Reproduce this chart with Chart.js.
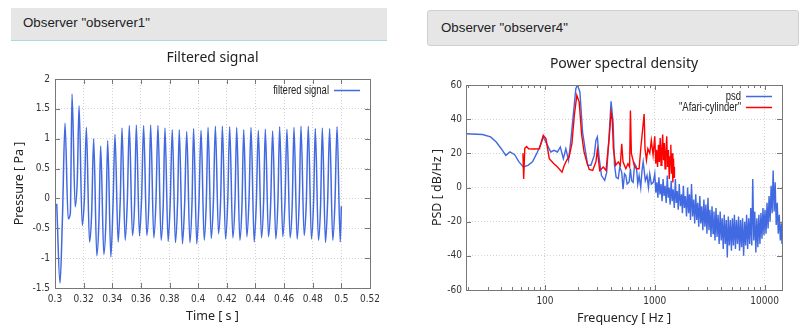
<!DOCTYPE html>
<html>
<head>
<meta charset="utf-8">
<script src="https://cdn.jsdelivr.net/npm/chart.js@4.4.0/dist/chart.umd.min.js"></script>
<style>
  html, body { margin: 0; padding: 0; background: #fff; }
  body { width: 806px; height: 333px; position: relative; overflow: hidden;
         font-family: 'Liberation Sans', Arial, sans-serif; }
  .obs { position: absolute; box-sizing: border-box; background: #e6e6e6; color: #222;
         font-size: 13.3px; line-height: 15px; }
  #obs1 { left: 11px; top: 8px; width: 376px; height: 33px; border-bottom: 1px solid #a6dcdc; padding: 7px 0 0 12px; }
  #obs4 { left: 427px; top: 10px; width: 372px; height: 36px; border: 1px solid #cfcfcf; border-radius: 3px; padding: 9px 0 0 13px; }
  canvas { position: absolute; }
  #chart-signal { left: 0; top: 44px; }
  #chart-psd { left: 403px; top: 50px; }
</style>
</head>
<body>
<div class="obs" id="obs1">Observer "observer1"</div>
<div class="obs" id="obs4">Observer "observer4"</div>
<canvas id="chart-signal" width="403" height="289"></canvas>
<canvas id="chart-psd" width="403" height="283"></canvas>
<script>
// ============================================================
// Observer plots — filtered signal + power spectral density
// ============================================================

// ── Filtered signal (observer1) ──────────────────────────────
// lead-in before the first pulse
const leadT = [0.3012, 0.3035, 0.3052];
const leadP = [-0.09, -1.42, -0.33];

// one entry per pulse: peak time / peak value
const peakT = [0.3070, 0.3119, 0.3168, 0.3219, 0.3270, 0.3319, 0.3368, 0.3419, 0.3468, 0.3519,
               0.3568, 0.3619, 0.3668, 0.3719, 0.3768, 0.3819, 0.3868, 0.3920, 0.3968, 0.4020,
               0.4069, 0.4120, 0.4169, 0.4220, 0.4269, 0.4318, 0.4369, 0.4420, 0.4469, 0.4520,
               0.4569, 0.4620, 0.4669, 0.4718, 0.4769, 0.4818, 0.4867, 0.4918, 0.4970];
const peakP = [1.26, 1.75, 1.55, 1.19, 1.00, 0.88, 0.97, 1.07, 1.18, 1.22,
               1.23, 1.22, 1.23, 1.22, 1.18, 1.15, 1.15, 1.12, 1.17, 1.14,
               1.19, 1.21, 1.21, 1.20, 1.19, 1.15, 1.19, 1.14, 1.16, 1.13,
               1.20, 1.16, 1.19, 1.21, 1.21, 1.17, 1.18, 1.17, 1.20];
// trough after each pulse
const troughP = [-0.34, -0.14, -0.45, -0.73, -0.96, -0.94, -0.98, -0.73, -0.70, -0.62,
                 -0.63, -0.62, -0.66, -0.70, -0.72, -0.74, -0.76, -0.74, -0.76, -0.70,
                 -0.67, -0.59, -0.68, -0.66, -0.70, -0.64, -0.73, -0.66, -0.64, -0.68,
                 -0.64, -0.66, -0.68, -0.62, -0.68, -0.70, -0.74, -0.70, -0.73];
// small shoulder on the rise before the next pulse
const shoulderP = [-0.25, 0.33, 0.00, -0.25, -0.37, -0.35, -0.12, 0.00, -0.05, -0.08,
                   0.02, -0.06, -0.05, -0.10, -0.04, -0.08, -0.12, -0.06, -0.10, -0.03,
                   -0.07, 0.00, -0.08, -0.05, -0.10, -0.02, -0.08, -0.06, -0.10, -0.04,
                   -0.06, -0.09, -0.03, -0.07, -0.05, -0.10, -0.06, -0.08];
const pulseLag = [0.0022, 0.0037];   // trough, shoulder delay after a peak [s]
const endT = 0.5, endP = -0.13;

const timeTicks     = [0.3, 0.32, 0.34, 0.36, 0.38, 0.4, 0.42, 0.44, 0.46, 0.48, 0.5, 0.52];
const pressureTicks = [-1.5, -1, -0.5, 0, 0.5, 1, 1.5, 2];

// ── Power spectral density (observer4) ───────────────────────
const psdFreq = [19.1, 27, 32, 36, 40, 44, 48, 53, 58, 63.5, 70, 77, 84, 92, 96.5, 102, 113, 121,
                 130, 138, 147, 155, 164, 172, 181, 191, 198, 208, 220, 233, 245, 262, 281, 291,
                 300, 312, 327, 350, 365, 384, 400, 417, 430, 445, 465, 480, 500, 514, 530, 545,
                 560, 584, 600, 615, 635, 655, 681, 700, 720, 745, 765, 784, 800, 820, 850, 875,
                 900, 930, 968];
const psdDb   = [31.5, 31, 29.6, 26.6, 22.7, 18.8, 20.8, 19.2, 15, 12, 13, 15, 19.8, 25.6, 29.6, 26.6, 20.8, 21.8,
                 20.8, 23.7, 16.9, 22.7, 15.9, 27.6, 42.2, 57.8, 60, 55.9, 32.5, 21.8, 13, 13, 18.8, 27.6,
                 29.6, 17, 7, 4.2, 9, 30.6, 50.4, 38.3, 13, 6, 5.2, 12, 9, -1, 8, 7,
                 2, 3.2, 11, 4, 3, 14, 12, 2, 7, 0, 10, 15, 10, 4, 7, 0,
                 8, 2, 3];
// broadband part of the trace: upper spikes and lower dips
const noiseFreq = [1000, 1045, 1090, 1140, 1190, 1240, 1300, 1350, 1410, 1470, 1540, 1600, 1670, 1750,
                   1820, 1900, 1990, 2070, 2160, 2260, 2360, 2460, 2570, 2680, 2800, 2920, 3050, 3180,
                   3320, 3460, 3610, 3770, 3940, 4110, 4290, 4480, 4670, 4880, 5090, 5310, 5540, 5790,
                   6040, 6300, 6580, 6860, 7160, 7480, 7800, 8140, 8500, 8870, 9260, 9660, 10080, 10520,
                   10980, 11460, 11960, 12480, 13030, 13600, 14200];
const noiseTop  = [8, 3, 6, 2, 5, 1, 7, 0, 4, -1, 5, -2, 2, -4,
                   1, -5, 0, -4, 2, -7, -4, -9, -5, -11, -7, -10, -6, -13,
                   -11, -14, -12, -16, -14, -18, -16, -19, -17, -19, -18, -16, -19, -17,
                   -19, -18, -20, -16, -18, -12, 5, -14, -18, -16, -15, -12, -13, -9,
                   -5, 1, 10, 3, -9, -16, -21];
const noiseFreqB = [1022, 1067, 1115, 1165, 1215, 1270, 1325, 1380, 1440, 1505, 1570, 1635, 1710, 1785,
                    1860, 1945, 2030, 2115, 2210, 2310, 2410, 2515, 2625, 2740, 2860, 2985, 3115, 3250,
                    3390, 3535, 3690, 3855, 4025, 4200, 4385, 4575, 4775, 4985, 5200, 5425, 5665, 5915,
                    6170, 6440, 6720, 7010, 7320, 7640, 7970, 8320, 8685, 9065, 9460, 9870, 10300, 10750,
                    11220, 11710, 12220, 12755, 13315, 13900, 14400];
const noiseLow  = [-3, -6, -4, -8, -5, -9, -6, -10, -8, -12, -9, -13, -11, -15,
                   -12, -17, -15, -19, -17, -21, -19, -23, -21, -25, -23, -27, -25, -29,
                   -27, -31, -29, -33, -31, -36, -33, -41, -34, -37, -34, -36, -33, -37,
                   -35, -40, -34, -36, -33, -34, -31, -38, -35, -33, -30, -28, -27, -24,
                   -20, -15, -14, -22, -27, -31, -33];

const afariFreq = [63, 64, 65.5, 68, 71, 80, 89, 96.5, 102, 109.5, 120, 130, 143, 150, 158, 166, 176,
                   185, 195, 205, 216, 227, 240, 253, 272, 291, 300, 315, 340, 360, 384, 400, 410,
                   420, 440, 465, 485, 500, 514, 545, 570, 590, 600, 612, 650, 680, 720, 745, 800,
                   815, 840, 865, 900, 930, 965, 1000, 1020, 1040, 1060, 1080, 1100, 1120, 1140,
                   1160, 1180, 1200, 1220, 1240, 1260, 1285, 1305, 1330, 1355, 1380, 1400, 1420,
                   1440, 1460, 1480, 1500, 1510];
const afariDb   = [20, 5, 23, 24, 22.7, 22.5, 22.7, 30.6, 28.6, 16.9, 14, 12, 9, 13, 16, 18, 25.6,
                   42, 54, 50, 30.6, 20.8, 15, 10.6, 10, 15, 22, 10, 12, 10, 28.6, 44, 40,
                   22.7, 13, 15, 13, 25.6, 15, 11, 14, 12, 45, 20, 13, 11, 11, 22.7, 43,
                   22.7, 16, 22.7, 20, 27.6, 19, 30, 14, 22, 12, 25, 15, 29, 13,
                   22, 31, 16, 26, 11, 20, 30, 12, 22, 5, 18, 25, 8,
                   20, 3, 17, 6, 12];

const freqTicks = [20, 30, 40, 50, 60, 70, 80, 90, 100, 200, 300, 400, 500, 600, 700, 800, 900,
                   1000, 2000, 3000, 4000, 5000, 6000, 7000, 8000, 9000, 10000];
const psdTicks  = [-60, -40, -20, 0, 20, 40, 60];

// ── Look ─────────────────────────────────────────────────────
const NARROW     = "'Liberation Sans Narrow', 'DejaVu Sans Condensed', 'Liberation Sans', sans-serif";
const KEY_FONT   = "'Liberation Sans', Arial, sans-serif";
const TITLE_FONT = "'Noto Sans', 'DejaVu Sans', sans-serif";
const BLUE  = '#4169e1';
const RED   = '#ff0000';
const FRAME = '#777777';
const GRID  = '#d2d2d2';

Chart.defaults.font.family = NARROW;
Chart.defaults.font.size   = 10;
Chart.defaults.color       = '#333';
Chart.defaults.animation   = false;

function isDecade(scale, v) {
  if (scale.type !== 'logarithmic') return true;
  const e = Math.log10(v);
  return Math.abs(e - Math.round(e)) < 1e-9;
}

// gnuplot style frame with inward ticks on all four sides
const gnuplotFrame = {
  id: 'gnuplotFrame',
  afterDatasetsDraw(chart) {
    const { ctx, chartArea: a, scales: { x, y } } = chart;
    ctx.save();
    ctx.strokeStyle = FRAME;
    ctx.lineWidth = 1;
    ctx.beginPath();
    x.ticks.forEach(t => {
      const px = Math.round(x.getPixelForValue(t.value)) + 0.5;
      const len = isDecade(x, t.value) ? 5 : 3;
      ctx.moveTo(px, a.bottom); ctx.lineTo(px, a.bottom - len);
      ctx.moveTo(px, a.top);    ctx.lineTo(px, a.top + len);
    });
    y.ticks.forEach(t => {
      const py = Math.round(y.getPixelForValue(t.value)) + 0.5;
      ctx.moveTo(a.left, py);  ctx.lineTo(a.left + 5, py);
      ctx.moveTo(a.right, py); ctx.lineTo(a.right - 5, py);
    });
    ctx.stroke();
    ctx.strokeRect(Math.round(a.left) + 0.5, Math.round(a.top) + 0.5,
                   Math.round(a.right - a.left), Math.round(a.bottom - a.top));
    ctx.restore();
  },
};

// key in the top right corner: condensed label, then line sample
const gnuplotKey = {
  id: 'gnuplotKey',
  afterDatasetsDraw(chart) {
    const { ctx, chartArea: a } = chart;
    chart.data.datasets.forEach((ds, i) => {
      const yy = Math.round(a.top + 11 + i * 10.5) + 0.5;
      ctx.save();
      ctx.translate(a.right - 41, yy);
      ctx.scale(0.79, 1);
      ctx.font = '12px ' + KEY_FONT;
      ctx.textAlign = 'right';
      ctx.textBaseline = 'middle';
      ctx.fillStyle = '#222';
      ctx.fillText(ds.label, 0, 0);
      ctx.restore();

      ctx.save();
      ctx.strokeStyle = ds.borderColor;
      ctx.lineWidth = 1.5;
      ctx.beginPath();
      ctx.moveTo(a.right - 36, yy);
      ctx.lineTo(a.right - 10, yy);
      ctx.stroke();
      ctx.restore();
    });
  },
};

function axisTitle(text, pad) {
  return { display: true, text, color: '#222', font: { family: TITLE_FONT, size: 12.5 }, padding: pad };
}

function chartTitle(text) {
  return {
    display: true, text, color: '#222', fullSize: false,
    font: { family: TITLE_FONT, size: 14, weight: 'normal' },
    padding: { top: 5.6, bottom: 12.6 },
  };
}

// ── Filtered signal ──────────────────────────────────────────
const signalPts = leadT.map((t, i) => ({ x: t, y: leadP[i] }));
peakT.forEach((t, i) => {
  signalPts.push({ x: t, y: peakP[i] });
  signalPts.push({ x: t + pulseLag[0], y: troughP[i] });
  if (i < shoulderP.length) signalPts.push({ x: t + pulseLag[1], y: shoulderP[i] });
});
signalPts.push({ x: endT, y: endP });

new Chart(document.getElementById('chart-signal'), {
  type: 'line',
  data: {
    datasets: [{
      label: 'filtered signal',
      data: signalPts,
      borderColor: BLUE,
      borderWidth: 1.5,
      pointRadius: 0,
      cubicInterpolationMode: 'monotone',
    }],
  },
  options: {
    responsive: false,
    devicePixelRatio: 1,
    layout: { padding: { left: 0, right: 33, top: 0, bottom: 0 } },
    plugins: {
      legend: { display: false },
      tooltip: { enabled: false },
      title: chartTitle('Filtered signal'),
    },
    scales: {
      x: {
        type: 'linear', min: 0.3, max: 0.52,
        afterBuildTicks: s => { s.ticks = timeTicks.map(v => ({ value: v })); },
        afterFit: s => { s.height = 45; },
        ticks: { padding: 5, autoSkip: false, maxRotation: 0, callback: v => String(+v.toFixed(2)) },
        grid: { color: GRID, drawTicks: false },
        border: { display: false, dash: [1, 2] },
        title: axisTitle('Time [ s ]', { top: 0, bottom: 8.8 }),
      },
      y: {
        type: 'linear', min: -1.5, max: 2,
        afterBuildTicks: s => { s.ticks = pressureTicks.map(v => ({ value: v })); },
        afterFit: s => { s.width = 55; },
        ticks: { padding: 5, callback: v => String(+v.toFixed(2)) },
        grid: { color: GRID, drawTicks: false },
        border: { display: false, dash: [1, 2] },
        title: axisTitle('Pressure [ Pa ]', { top: 12, bottom: 0 }),
      },
    },
  },
  plugins: [gnuplotFrame, gnuplotKey],
});

// ── Power spectral density ───────────────────────────────────
const psdPts = psdFreq.map((f, i) => ({ x: f, y: psdDb[i] }));
noiseFreq.forEach((f, i) => {
  psdPts.push({ x: f, y: noiseTop[i] });
  psdPts.push({ x: noiseFreqB[i], y: noiseLow[i] });
});
const afariPts = afariFreq.map((f, i) => ({ x: f, y: afariDb[i] }));

new Chart(document.getElementById('chart-psd'), {
  type: 'line',
  data: {
    datasets: [
      { label: 'psd', data: psdPts, borderColor: BLUE, borderWidth: 1.4, pointRadius: 0, order: 2 },
      { label: '"Afari-cylinder"', data: afariPts, borderColor: RED, borderWidth: 1.4, pointRadius: 0, order: 1 },
    ],
  },
  options: {
    responsive: false,
    devicePixelRatio: 1,
    layout: { padding: { left: 0, right: 24, top: 0, bottom: 0 } },
    plugins: {
      legend: { display: false },
      tooltip: { enabled: false },
      title: chartTitle('Power spectral density'),
    },
    scales: {
      x: {
        type: 'logarithmic', min: 19.1, max: 14400,
        afterBuildTicks: s => { s.ticks = freqTicks.map(v => ({ value: v })); },
        afterFit: s => { s.height = 43; },
        ticks: {
          padding: 5, autoSkip: false, maxRotation: 0,
          callback: function (v) { return isDecade(this, v) ? String(v) : ''; },
        },
        grid: {
          drawTicks: false,
          color: c => (c.tick && isDecade({ type: 'logarithmic' }, c.tick.value)) ? GRID : 'rgba(0,0,0,0)',
        },
        border: { display: false, dash: [1, 2] },
        title: axisTitle('Frequency [ Hz ]', { top: 0, bottom: 7.2 }),
      },
      y: {
        type: 'linear', min: -60, max: 60,
        afterBuildTicks: s => { s.ticks = psdTicks.map(v => ({ value: v })); },
        afterFit: s => { s.width = 63; },
        ticks: { padding: 4, callback: v => String(v) },
        grid: { color: GRID, drawTicks: false },
        border: { display: false, dash: [1, 2] },
        title: axisTitle('PSD [ dB/Hz ]', { top: 26.5, bottom: 0 }),
      },
    },
  },
  plugins: [gnuplotFrame, gnuplotKey],
});
</script>
</body>
</html>
